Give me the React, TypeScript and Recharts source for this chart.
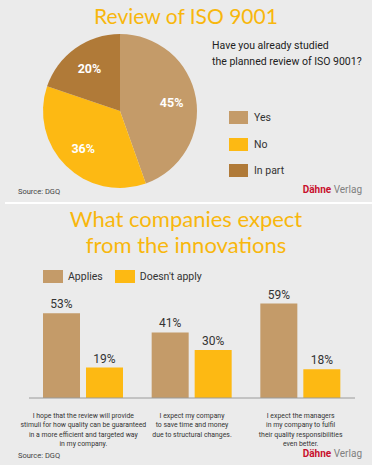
import { PieChart, Pie, Cell, Legend, BarChart, Bar, XAxis, YAxis, LabelList } from 'recharts';

// top chart: pie
const pieNames = ['Yes', 'No', 'In part'];
const pieValues = [45, 36, 20];
const pieColors = ['#c49b69', '#fdb913', '#b07a38'];

// bottom chart: grouped bars
const barCategories = [
  'I hope that the review will provide\nstimuli for how quality can be guaranteed\nin a more efficient and targeted way\nin my company.',
  'I expect my company\nto save time and money\ndue to structural changes.',
  'I expect the managers\nin my company to fulfil\ntheir quality responsibilities\neven better.',
];
const appliesValues = [53, 41, 59];
const notApplyValues = [19, 30, 18];
const seriesNames = ['Applies', "Doesn't apply"];
const seriesColors = ['#c49b69', '#fdb913'];

const pieData = pieNames.map((name, i) => ({ name, value: pieValues[i] }));
const barData = barCategories.map((name, i) => ({
  name,
  applies: appliesValues[i],
  notApply: notApplyValues[i],
}));

const BODY = 'Roboto, "Noto Sans", sans-serif';
const TITLE = 'Lato, Roboto, sans-serif';
const YELLOW = '#f8b70d';
const RAD = Math.PI / 180;

const PieLabel = (props: any) => {
  const { cx, cy, midAngle, outerRadius, value } = props;
  const r = outerRadius * 0.68;
  const x = cx + r * Math.cos(-midAngle * RAD);
  const y = cy + r * Math.sin(-midAngle * RAD);
  return (
    <text x={x} y={y} fill="#fff" fontSize={12.5} fontWeight={700} fontFamily={BODY}
      textAnchor="middle" dominantBaseline="central">
      {value}%
    </text>
  );
};

// legend keeps the data order (Yes, No, In part)
const PieLegend = () => (
  <div style={{ fontFamily: BODY }}>
    {pieNames.map((n, i) => (
      <div key={n} style={{ display: 'flex', alignItems: 'center', height: 13, marginBottom: 13.5 }}>
        <div style={{ width: 19, height: 13, background: pieColors[i], marginRight: 6 }} />
        <span style={{ fontSize: 10.5, color: '#333' }}>{n}</span>
      </div>
    ))}
  </div>
);

const BarLegend = () => (
  <div style={{ display: 'flex', alignItems: 'center', fontFamily: BODY }}>
    {seriesNames.map((n, i) => (
      <div key={n} style={{ display: 'flex', alignItems: 'center', marginRight: 12 }}>
        <div style={{ width: 20, height: 13, background: seriesColors[i], marginRight: 5 }} />
        <span style={{ fontSize: 10.5, color: '#333' }}>{n}</span>
      </div>
    ))}
  </div>
);

// multi-line category text, squeezed horizontally like the condensed original
const CategoryTick = (props: any) => {
  const { x, y, payload } = props;
  const lines = String(payload.value).split('\n');
  return (
    <g transform={`translate(${x},${y}) scale(0.86,1)`}>
      {lines.map((l, i) => (
        <text key={i} x={0} y={12 + i * 9.5} textAnchor="middle" fill="#333"
          fontSize={8} fontFamily={BODY}>
          {l}
        </text>
      ))}
    </g>
  );
};

const Brand = ({ top }: { top: number }) => (
  <div style={{ position: 'absolute', right: 10, top, fontFamily: BODY, fontSize: 10 }}>
    <span style={{ color: '#c8102e', fontWeight: 700 }}>Dähne</span>
    <span style={{ color: '#808080' }}> Verlag</span>
  </div>
);

const Source = ({ top }: { top: number }) => (
  <div style={{ position: 'absolute', left: 18, top, fontFamily: BODY, fontSize: 7.5, color: '#444' }}>
    Source: DGQ
  </div>
);

export default function App() {
  return (
    <div style={{ position: 'absolute', left: 0, top: 0, width: 372, height: 465, background: '#ebebeb', overflow: 'hidden' }}>
      {/* top panel */}
      <div style={{ position: 'absolute', left: 0, top: 3, width: 372, textAlign: 'center', fontFamily: TITLE, fontSize: 21, color: YELLOW }}>
        Review of ISO 9001
      </div>
      <div style={{ position: 'absolute', left: 212, top: 38, fontFamily: BODY, fontSize: 10.5, lineHeight: '16px', color: '#222' }}>
        Have you already studied<br />the planned review of ISO 9001?
      </div>
      <div style={{ position: 'absolute', left: 0, top: 0 }}>
        <PieChart width={372} height={200} margin={{ top: 0, right: 0, bottom: 0, left: 0 }}>
          <Pie data={pieData} dataKey="value" nameKey="name" cx={120} cy={111} outerRadius={77}
            startAngle={90} endAngle={-270} stroke="none" label={PieLabel} labelLine={false}
            isAnimationActive={false}>
            {pieData.map((d, i) => <Cell key={d.name} fill={pieColors[i]} />)}
          </Pie>
          <Legend layout="horizontal" verticalAlign="middle" align="center" content={PieLegend}
            wrapperStyle={{ left: 229, top: 111, width: 120 }} />
        </PieChart>
      </div>
      <Source top={187} />
      <Brand top={184} />

      {/* separator */}
      <div style={{ position: 'absolute', left: 5, top: 202, width: 367, height: 2, background: '#fff' }} />

      {/* bottom panel */}
      <div style={{ position: 'absolute', left: 0, top: 206, width: 372, textAlign: 'center', fontFamily: TITLE, fontSize: 22, lineHeight: '26px', color: YELLOW }}>
        What companies expect<br />from the innovations
      </div>
      <div style={{ position: 'absolute', left: 0, top: 203 }}>
        <BarChart width={372} height={262} data={barData} barSize={37} barGap={6}
          margin={{ top: 35, right: 17, bottom: 7, left: 29 }}>
          <XAxis dataKey="name" height={60} tickLine={false} axisLine={{ stroke: '#9a9a9a' }}
            tick={<CategoryTick />} interval={0} />
          <YAxis hide domain={[0, 100]} />
          <Legend layout="horizontal" verticalAlign="middle" align="center" content={BarLegend}
            wrapperStyle={{ left: 43, top: 67, width: 260 }} />
          <Bar dataKey="applies" name={seriesNames[0]} fill={seriesColors[0]} isAnimationActive={false}>
            <LabelList dataKey="applies" position="top" offset={5} formatter={(v: any) => `${v}%`}
              fill="#333" fontSize={12} fontFamily={BODY} />
          </Bar>
          <Bar dataKey="notApply" name={seriesNames[1]} fill={seriesColors[1]} isAnimationActive={false}>
            <LabelList dataKey="notApply" position="top" offset={5} formatter={(v: any) => `${v}%`}
              fill="#333" fontSize={12} fontFamily={BODY} />
          </Bar>
        </BarChart>
      </div>
      <Source top={451} />
      <Brand top={448} />
    </div>
  );
}
